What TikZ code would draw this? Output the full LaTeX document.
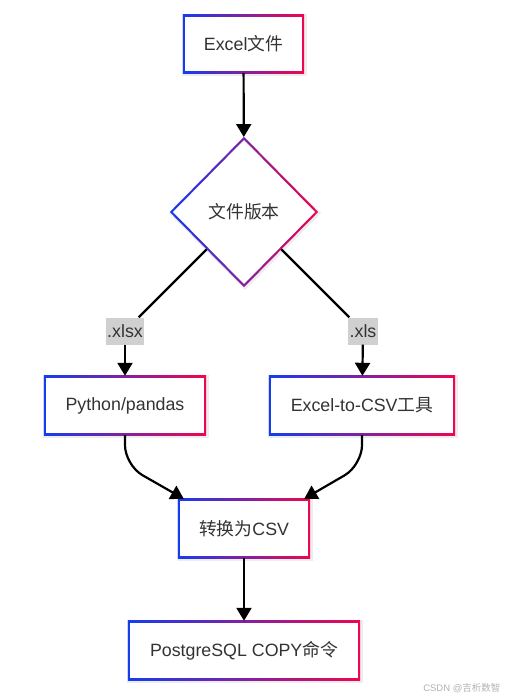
\documentclass[tikz,border=0pt]{standalone}
\usepackage{fontspec}
\setmainfont{Liberation Sans}
\newfontfamily\cjk{Noto Sans CJK SC}
\usetikzlibrary{shapes.geometric,arrows.meta,backgrounds}
\definecolor{gblue}{RGB}{20,60,240}
\definecolor{gred}{RGB}{240,5,80}
\definecolor{txt}{RGB}{51,51,51}
\definecolor{lblgray}{RGB}{208,208,208}
\newcommand\zh[1]{{\cjk #1}}
\newcommand\gbox[1]{%
  \fill[black,opacity=0.07] ([shift={(-1pt,-3pt)}]#1.south west) rectangle ([shift={(3pt,1pt)}]#1.north east);
  \shade[left color=gblue,right color=gred] (#1.south west) rectangle (#1.north east);
  \fill[white] ([shift={(2.3pt,2.3pt)}]#1.south west) rectangle ([shift={(-2.3pt,-2.3pt)}]#1.north east);}
\begin{document}
\begin{tikzpicture}[x=1pt,y=-1pt,
  box/.style={rectangle, minimum height=59pt, inner sep=0pt, font=\fontsize{17.8pt}{21pt}\selectfont, text=txt},
  dia/.style={diamond, minimum width=148pt, minimum height=150pt, inner sep=0pt, font=\fontsize{17.8pt}{21pt}\selectfont, text=txt},
  lbl/.style={fill=lblgray, inner xsep=1.5pt, inner ysep=0pt, minimum height=27pt, font=\fontsize{17.8pt}{21pt}\selectfont, text=txt},
  arr/.style={line width=2.2pt, -{Triangle[length=13pt,width=15pt]}},
  ln/.style={line width=2.2pt}]
\useasboundingbox (0,0) rectangle (507,698);

\node[box, minimum width=121pt, minimum height=58pt] (e1) at (243.5,44) {Excel\zh{文件}};
\node[dia] (d) at (244,212) {\zh{文件版本}};
\node[lbl] (lx) at (125,331) {.xlsx};
\node[lbl] (ls) at (363,331) {.xls};
\node[box, minimum width=162pt] (py) at (125,405.5) {Python/pandas};
\node[box, minimum width=186pt] (ex) at (362,405.5) {Excel-to-CSV\zh{工具}};
\node[box, minimum width=132pt] (csv) at (244,528.5) {\zh{转换为}CSV};
\node[box, minimum width=232pt] (pg) at (244,650.5) {PostgreSQL COPY\zh{命令}};
\node[anchor=east, font=\fontsize{9.5pt}{11pt}\selectfont, text=black!30] (wm) at (504,688) {CSDN @\zh{吉析数智}};

\begin{scope}[on background layer]
  \gbox{e1}\gbox{py}\gbox{ex}\gbox{csv}\gbox{pg}
  \fill[black,opacity=0.07] ([shift={(1pt,-3pt)}]d.north) -- ([shift={(3pt,-1pt)}]d.east) -- ([shift={(1pt,-3pt)}]d.south) -- ([shift={(-1pt,-1pt)}]d.west) -- cycle;
  \shade[left color=gblue,right color=gred] (d.north) -- (d.east) -- (d.south) -- (d.west) -- cycle;
  \fill[white] ([yshift=-3.2pt]d.north) -- ([xshift=-3.2pt]d.east) -- ([yshift=3.2pt]d.south) -- ([xshift=3.2pt]d.west) -- cycle;
\end{scope}

\draw[arr] (e1) -- (d);
\draw[ln] (d) -- (lx);
\draw[ln] (d) -- (ls);
\draw[arr] (lx) -- (py);
\draw[arr] (ls) -- (ex);
\draw[arr, rounded corners=20pt] (py.south) -- ([yshift=-30pt]py.south) -- ([xshift=6pt]csv.north west);
\draw[arr, rounded corners=20pt] (ex.south) -- ([yshift=-30pt]ex.south) -- ([xshift=-6pt]csv.north east);
\draw[arr] (csv) -- (pg);
\end{tikzpicture}
\end{document}
